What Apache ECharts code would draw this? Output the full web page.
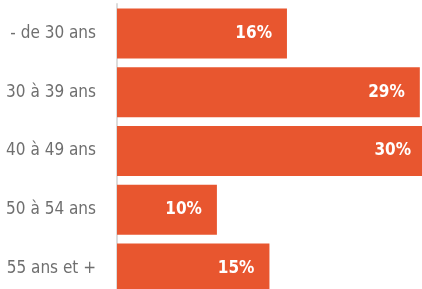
<!DOCTYPE html>
<html><head><meta charset="utf-8">
<script src="https://cdn.jsdelivr.net/npm/echarts@6/dist/echarts.min.js"></script>
<style>html,body{margin:0;padding:0;background:#fff}#c{width:422px;height:289px}</style>
</head><body><div id="c"></div>
<script>
const categories = ["- de 30 ans", "30 à 39 ans", "40 à 49 ans", "50 à 54 ans", "55 ans et +"];
const values = [16.5, 29.4, 30.2, 9.7, 14.8];
const valueLabels = ["16%", "29%", "30%", "10%", "15%"];
const FONT = "'DejaVu Sans Condensed', 'Liberation Sans Narrow', sans-serif";
const chart = echarts.init(document.getElementById('c'), null, {renderer: 'canvas'});
chart.setOption({
  animation: false,
  grid: {left: 117, top: 4, right: -4, bottom: -9, containLabel: false, outerBoundsMode: 'none'},
  xAxis: {type: 'value', min: 0, max: 30, show: false},
  yAxis: {
    type: 'category', data: categories, inverse: true,
    axisLine: {show: true, lineStyle: {color: '#dcdcdc', width: 2}},
    axisTick: {show: false},
    axisLabel: {color: '#6f6f6f', fontSize: 17, fontFamily: FONT, margin: 21}
  },
  series: [{
    type: 'bar', data: values, barCategoryGap: '15%',
    itemStyle: {color: '#E8562F'},
    label: {
      show: true, position: 'insideRight', distance: 15,
      formatter: p => valueLabels[p.dataIndex],
      color: '#fff', fontSize: 17, fontWeight: 'bold', fontFamily: FONT
    }
  }]
});
</script></body></html>
